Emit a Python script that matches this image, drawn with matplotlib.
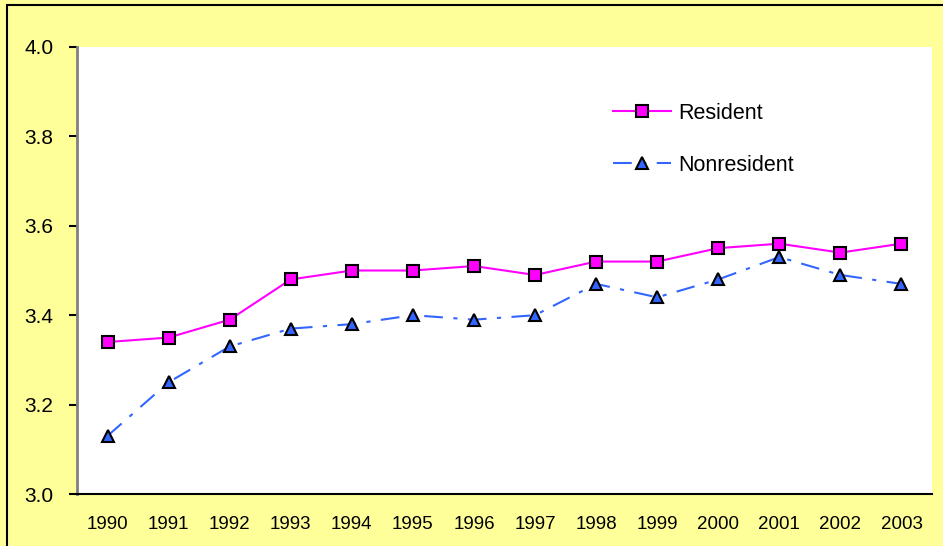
import matplotlib.pyplot as plt
from matplotlib.patches import Rectangle

years = ["1990", "1991", "1992", "1993", "1994", "1995", "1996",
         "1997", "1998", "1999", "2000", "2001", "2002", "2003"]
resident = [3.34, 3.35, 3.39, 3.48, 3.50, 3.50, 3.51,
            3.49, 3.52, 3.52, 3.55, 3.56, 3.54, 3.56]
nonresident = [3.13, 3.25, 3.33, 3.37, 3.38, 3.40, 3.39,
               3.40, 3.47, 3.44, 3.48, 3.53, 3.49, 3.47]
yticks = [3.0, 3.2, 3.4, 3.6, 3.8, 4.0]

plt.rcParams['font.family'] = ['Liberation Sans', 'DejaVu Sans']

bg = "#FFFF99"
fig = plt.figure(figsize=(9.43, 5.46), dpi=100, facecolor=bg)
ax = fig.add_axes([77 / 943, 1 - 494 / 546, 855 / 943, 447 / 546])
ax.set_facecolor("white")

# figure border (only top and left visible in the original)
fig.patches.append(Rectangle((7 / 943, -0.1), 1.1, 1.1 - 5 / 546,
                             transform=fig.transFigure, fill=False,
                             edgecolor="black", linewidth=1.5))

x = list(range(len(years)))
ax.plot(x, resident, color="#FF00FF", linewidth=1.5, marker="s",
        markersize=8, markerfacecolor="#FF00FF", markeredgecolor="black",
        markeredgewidth=1.5, label="Resident")
ax.plot(x, nonresident, color="#3366FF", linewidth=1.5,
        linestyle=(0, (9, 5, 2, 5)), marker="^", markersize=8,
        markerfacecolor="#3366FF", markeredgecolor="black",
        markeredgewidth=1.5, label="Nonresident")

ax.set_xlim(-0.5, len(years) - 0.5)
ax.set_ylim(3.0, 4.0)
ax.set_xticks(x)
ax.set_xticklabels(years)
ax.set_yticks(yticks)
ax.set_yticklabels([f"{v:.1f}" for v in yticks])
ax.tick_params(axis="x", length=0, labelsize=13.5, pad=16)
ax.tick_params(axis="y", length=6, width=1.5, labelsize=15, pad=11,
               direction="out")

for side in ["top", "right"]:
    ax.spines[side].set_visible(False)
ax.spines["left"].set_color("#808080")
ax.spines["left"].set_linewidth(2)
ax.spines["bottom"].set_color("black")
ax.spines["bottom"].set_linewidth(1.5)

ax.legend(loc="upper left", bbox_to_anchor=(0.6045, 0.919), frameon=False,
          fontsize=15.5, handlelength=2.7, handletextpad=0.3,
          labelspacing=1.45)

fig.savefig("out.png", dpi=100, facecolor=bg)
